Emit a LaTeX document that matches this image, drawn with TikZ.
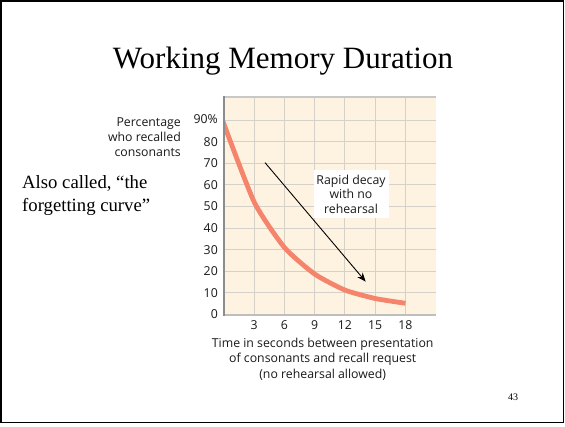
\documentclass[tikz,border=0pt]{standalone}
\usepackage{fontspec}
\setmainfont{Liberation Serif}
\newfontfamily\chartfont{Open Sans}
\usetikzlibrary{arrows.meta}
\definecolor{cream}{RGB}{254,243,225}
\definecolor{gridc}{RGB}{214,209,200}
\definecolor{curvec}{RGB}{244,132,108}
\definecolor{topbar}{RGB}{200,200,200}
\definecolor{axisc}{RGB}{140,140,140}
\definecolor{botaxis}{RGB}{190,190,190}
\tikzset{
  chart/.style={font=\chartfont\fontsize{12.3}{14.5}\selectfont, text=black!90, inner sep=0pt},
  ticklab/.style={chart},
  serifbig/.style={inner sep=0pt},
}
\begin{document}
\begin{tikzpicture}[x=1pt,y=1pt]
\useasboundingbox (0,0) rectangle (565,426);
\fill[white] (0,0) rectangle (565,426);
\draw[line width=1.8pt] (1.3,424.7) rectangle (563.5,3.5);
% title
\node[serifbig, anchor=base, font=\fontsize{31}{36}\selectfont] (title) at (283,357.7) {Working Memory Duration};
% side text
\node[serifbig, anchor=base west, align=left, font=\fontsize{18.7}{23}\selectfont] (side) at (22,214) {Also called, ``the\\forgetting curve''};
% page number
\node[serifbig, font=\fontsize{10}{11}\selectfont] (pnum) at (513,28.5) {43};
% chart
\begin{scope}[xshift=224pt, yshift=111.5pt, x=10.08pt, y=2.16pt]
  \fill[cream] (0,0) rectangle (21,100.6);
  \foreach \t in {3,6,...,18} \draw[gridc, line width=1pt] (\t,0) -- (\t,100.6);
  \foreach \v in {10,20,...,90} \draw[gridc, line width=1pt] (0,\v) -- (21,\v);
  \begin{scope}
    \clip (0,0) rectangle (21,100.6);
    \draw[curvec, line width=4.8pt, line join=round] plot[smooth, tension=0.35] coordinates {(-0.1,89.3) (3,52) (6,31) (9,18.7) (12,11.3) (15,7.4) (18,5.2)};
  \end{scope}
  \draw[topbar, line width=2.4pt] (0,100.6) -- (21,100.6);
  \draw[botaxis, line width=2.4pt] (0,-0.3) -- (21,-0.3);
  \draw[axisc, line width=1.1pt] (0,-0.8) -- (0,101.2);
  % y labels
  \node[ticklab, anchor=east] (y90) at ([xshift=-6pt]0,90.5) {90\%};
  \foreach \v in {80,70,...,10} \node[ticklab, anchor=east] (y\v) at ([xshift=-6pt]0,\v) {\v};
  \node[ticklab, anchor=east] (y0) at ([xshift=-6pt]0,0) {0};
  % x labels
  \foreach \t in {3,6,...,18} \node[ticklab] (x\t) at ([yshift=-10.5pt]\t,0) {\t};
  % arrow
  \coordinate (a1) at (4.07,70.3);
  \coordinate (a2) at (14.06,15.2);
  \draw[line width=0.9pt, -{Stealth[length=9pt, width=7pt]}] (a1) -- (a2);
  % annotation
  \node[chart, fill=white, align=center, minimum width=75pt, minimum height=48pt] (note) at (12.6,55.8) {Rapid decay\\with no\\rehearsal};
\end{scope}
% axis titles
\node[chart, anchor=east, align=right, font=\chartfont\fontsize{12.3}{15}\selectfont] (ytitle) at (181,289.3) {Percentage\\who recalled\\consonants};
\node[chart, align=center, font=\chartfont\fontsize{12.3}{15.5}\selectfont] (xtitle) at (322.7,67) {Time in seconds between presentation\\of consonants and recall request\\(no rehearsal allowed)};
\end{tikzpicture}
\end{document}
